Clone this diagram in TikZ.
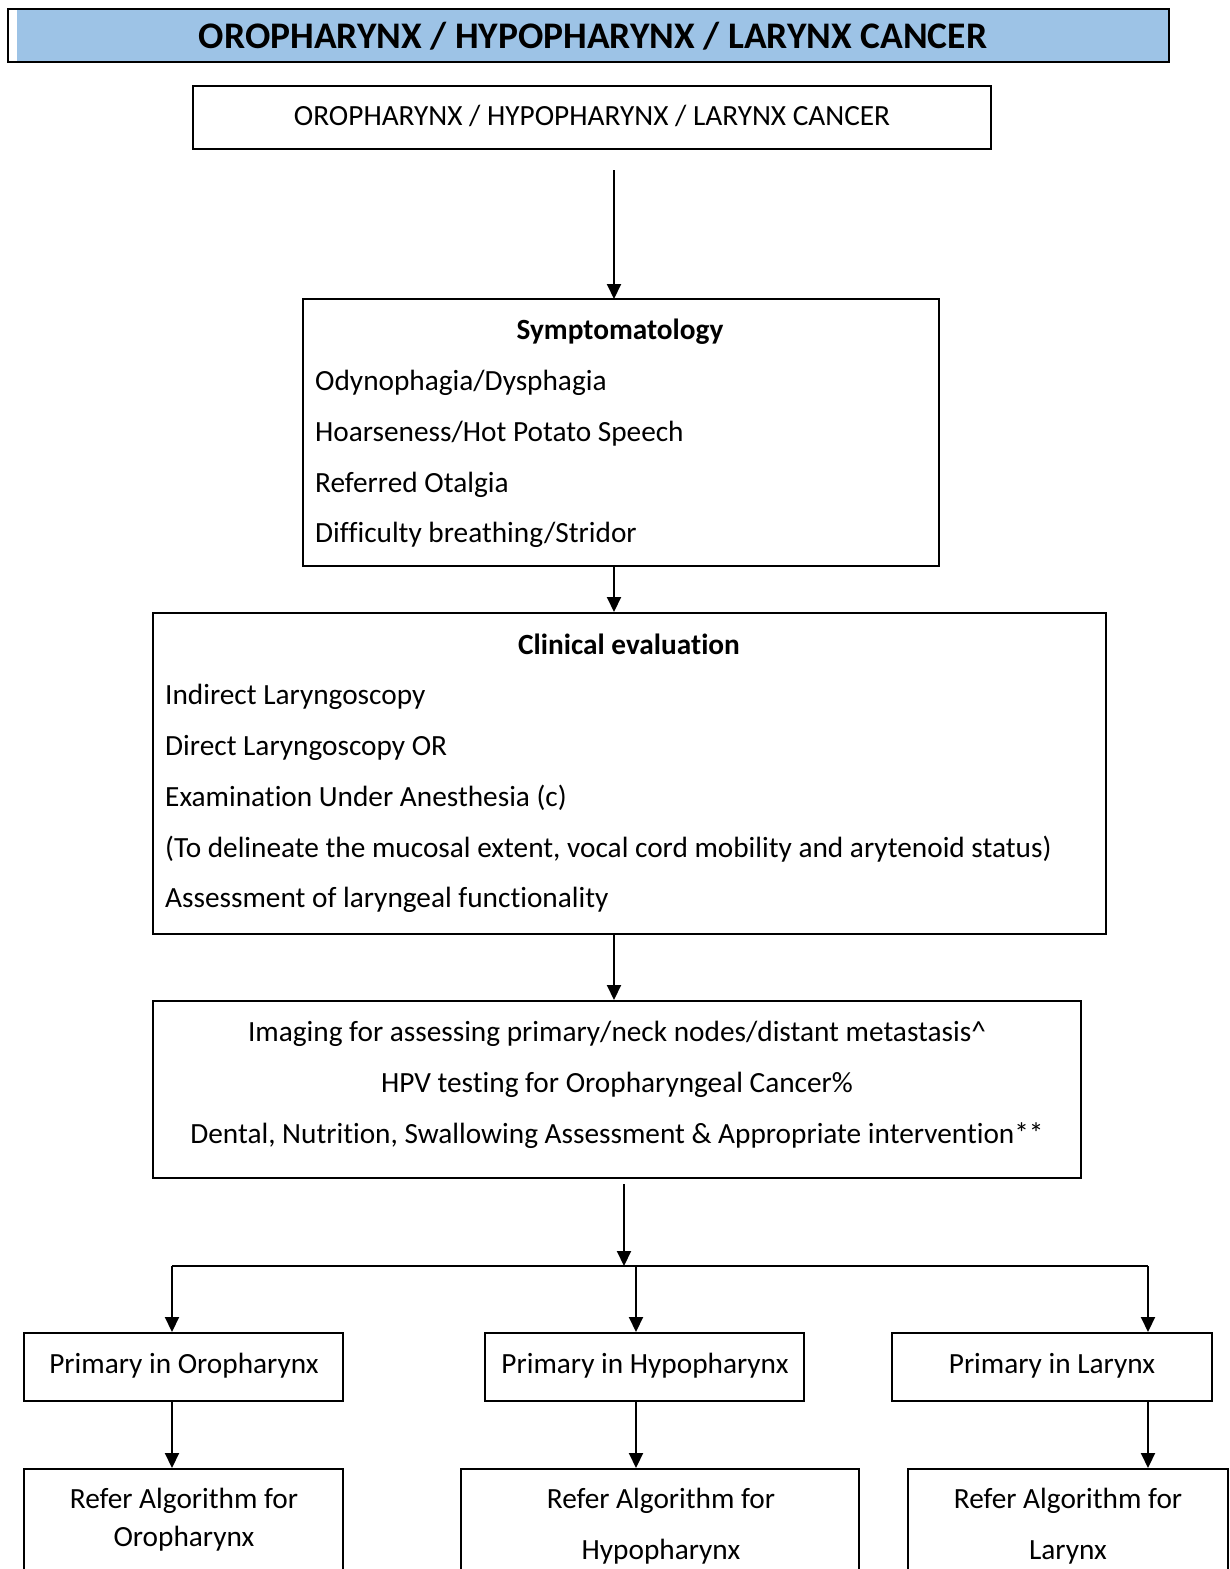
\documentclass[tikz,border=0pt]{standalone}
\usepackage{fontspec}
\setmainfont{Carlito}[Ligatures={NoCommon}]
\usetikzlibrary{arrows.meta}
\definecolor{banner}{RGB}{157,195,230}
\tikzset{
  box/.style={draw=black, line width=2pt, rectangle, inner sep=0pt},
  txt/.style={inner sep=0pt, font=\fontsize{29.3}{34}\selectfont},
  btxt/.style={inner sep=0pt, font=\fontsize{29.3}{34}\selectfont\bfseries},
  arr/.style={line width=2pt, -{Triangle[length=15pt,width=14pt]}},
  ln/.style={line width=2pt}
}
\begin{document}
\begin{tikzpicture}[x=1pt,y=-1pt]
\useasboundingbox (0,0) rectangle (1229,1569);
\clip (0,0) rectangle (1229,1569);

% heading banner
\fill[banner] (17,10) rectangle (1168,61);
\draw[line width=2pt] (8,9) rectangle (1169,62);
\node[inner sep=0pt, anchor=base, font=\fontsize{37.5}{42}\selectfont\bfseries] (head) at (593,48) {OROPHARYNX / HYPOPHARYNX / LARYNX CANCER};

% entry box
\node[box, minimum width=798pt, minimum height=63pt] (entry) at (592,117.5) {};
\node[txt, anchor=base] (entrytxt) at (592,125) {OROPHARYNX / HYPOPHARYNX / LARYNX CANCER};

% symptomatology
\node[box, minimum width=636pt, minimum height=267pt] (symp) at (621,432.5) {};
\node[btxt, anchor=base] (sympt) at (620,339) {Symptomatology};
\node[txt, anchor=base west] (s1) at (315,390) {Odynophagia/Dysphagia};
\node[txt, anchor=base west] (s2) at (315,441) {Hoarseness/Hot Potato Speech};
\node[txt, anchor=base west] (s3) at (315,492) {Referred Otalgia};
\node[txt, anchor=base west] (s4) at (315,542) {Difficulty breathing/Stridor};

% clinical evaluation
\node[box, minimum width=953pt, minimum height=321pt] (clin) at (629.5,773.5) {};
\node[btxt, anchor=base] (clint) at (629,654) {Clinical evaluation};
\node[txt, anchor=base west] (c1) at (165,704) {Indirect Laryngoscopy};
\node[txt, anchor=base west] (c2) at (165,755) {Direct Laryngoscopy OR};
\node[txt, anchor=base west] (c3) at (165,806) {Examination Under Anesthesia (c)};
\node[txt, anchor=base west] (c4) at (165,857) {(To delineate the mucosal extent, vocal cord mobility and arytenoid status)};
\node[txt, anchor=base west] (c5) at (165,907) {Assessment of laryngeal functionality};

% imaging and assessment
\node[box, minimum width=928pt, minimum height=177pt] (img) at (617,1089.5) {};
\node[txt, anchor=base] (i1) at (617,1041) {Imaging for assessing primary/neck nodes/distant metastasis\textasciicircum};
\node[txt, anchor=base] (i2) at (617,1092) {HPV testing for Oropharyngeal Cancer\%};
\node[txt, anchor=base] (i3) at (617,1143) {Dental, Nutrition, Swallowing Assessment \& Appropriate intervention**};

% primary site boxes
\node[box, minimum width=319pt, minimum height=68pt] (po) at (183.5,1367) {};
\node[txt, anchor=base] (pot) at (184,1373) {Primary in Oropharynx};
\node[box, minimum width=319pt, minimum height=68pt] (ph) at (644.5,1367) {};
\node[txt, anchor=base] (pht) at (645,1373) {Primary in Hypopharynx};
\node[box, minimum width=320pt, minimum height=68pt] (pl) at (1052,1367) {};
\node[txt, anchor=base] (plt) at (1052,1373) {Primary in Larynx};

% referral boxes (continue past the page foot)
\node[box, minimum width=319pt, minimum height=140pt] (ro) at (183.5,1539) {};
\node[txt, anchor=base] (rot1) at (184,1508) {Refer Algorithm for};
\node[txt, anchor=base] (rot2) at (184,1546) {Oropharynx};
\node[box, minimum width=398pt, minimum height=140pt] (rh) at (660,1539) {};
\node[txt, anchor=base] (rht1) at (661,1508) {Refer Algorithm for};
\node[txt, anchor=base] (rht2) at (661,1559) {Hypopharynx};
\node[box, minimum width=320pt, minimum height=140pt] (rl) at (1068,1539) {};
\node[txt, anchor=base] (rlt1) at (1068,1508) {Refer Algorithm for};
\node[txt, anchor=base] (rlt2) at (1068,1559) {Larynx};

% junction points of the split
\coordinate (jtop) at (624,1184);
\coordinate (jmid) at (624,1266);
\coordinate (jl) at (172,1266);
\coordinate (jc) at (636,1266);
\coordinate (jr) at (1148,1266);

% connectors
\draw[arr] (614,170) -- (614,299);
\draw[arr] (symp.south -| 614,0) -- (clin.north -| 614,0);
\draw[arr] (clin.south -| 614,0) -- (img.north -| 614,0);
\draw[arr] (jtop) -- (jmid);
\draw[ln] (jl) -- (jr);
\draw[arr] (jl) -- (po.north -| jl);
\draw[arr] (jc) -- (ph.north -| jc);
\draw[arr] (jr) -- (pl.north -| jr);
\draw[arr] (po.south -| jl) -- (ro.north -| jl);
\draw[arr] (ph.south -| jc) -- (rh.north -| jc);
\draw[arr] (pl.south -| jr) -- (rl.north -| jr);
\end{tikzpicture}
\end{document}
